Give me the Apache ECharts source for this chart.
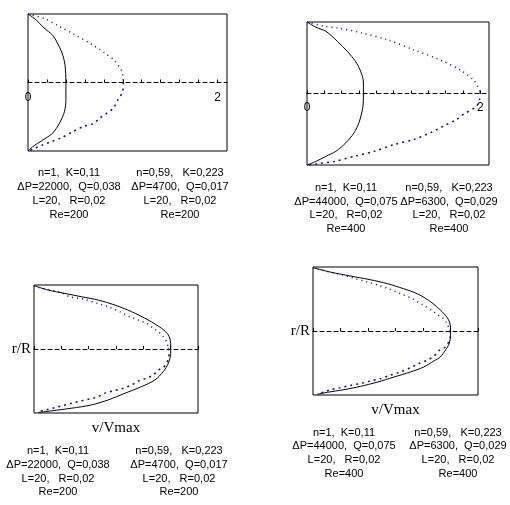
<!DOCTYPE html>
<html>
<head>
<meta charset="utf-8">
<script src="https://cdn.jsdelivr.net/npm/echarts@6/dist/echarts.min.js"></script>
<style>
  html, body { margin: 0; padding: 0; background: #fff; }
  #chart { width: 510px; height: 505px; }
</style>
</head>
<body>
<div id="chart"></div>
<script>
// velocity profiles, points are [v, r/R], top wall to bottom wall
// Re=200, absolute velocity
const profileNewton200 = [[0, 1], [0.083, 0.917], [0.17, 0.795], [0.26, 0.69], [0.31, 0.577], [0.36, 0.43], [0.39, 0.26],
  [0.40, 0], [0.40, -0.25], [0.385, -0.425], [0.33, -0.6], [0.26, -0.74], [0.19, -0.81], [0.10, -0.89], [0.047, -0.94], [0, -1]];
const profilePower200 = [[0, 1], [0.17, 0.934], [0.33, 0.82], [0.49, 0.70], [0.65, 0.577], [0.81, 0.43], [0.92, 0.31], [0.99, 0.16],
  [1.005, 0], [1.0, -0.13], [0.95, -0.25], [0.90, -0.376], [0.83, -0.45], [0.757, -0.52], [0.69, -0.6], [0.58, -0.645],
  [0.47, -0.72], [0.35, -0.81], [0.24, -0.866], [0.15, -0.914], [0.065, -0.963], [0.01, -1]];
// Re=400, absolute velocity
const profileNewton400 = [[0, 1], [0.103, 0.927], [0.218, 0.87], [0.352, 0.728], [0.467, 0.586], [0.563, 0.444], [0.621, 0.303],
  [0.651, 0.161], [0.651, -0.005], [0.644, -0.194], [0.60, -0.407], [0.544, -0.548], [0.448, -0.69], [0.333, -0.809],
  [0.218, -0.879], [0.103, -0.95], [0, -1]];
const profilePower400 = [[0, 1], [0.199, 0.941], [0.352, 0.917], [0.64, 0.846], [0.927, 0.752], [1.234, 0.61], [1.54, 0.468],
  [1.77, 0.326], [1.926, 0.184], [2.0, 0.019], [1.992, -0.076], [1.954, -0.18], [1.808, -0.288], [1.732, -0.359],
  [1.579, -0.454], [1.425, -0.548], [1.234, -0.643], [1.004, -0.714], [0.774, -0.809], [0.544, -0.879], [0.314, -0.95],
  [0.123, -0.983], [0.027, -1]];
// Re=200, v/Vmax
const normNewton200 = [[0, 0.99], [0.105, 0.92], [0.227, 0.868], [0.349, 0.816], [0.471, 0.764], [0.593, 0.686], [0.715, 0.582],
  [0.837, 0.452], [0.934, 0.322], [0.983, 0.218], [1.0, 0.088], [1.0, -0.068], [0.983, -0.223], [0.946, -0.353],
  [0.885, -0.483], [0.788, -0.587], [0.666, -0.691], [0.544, -0.795], [0.422, -0.873], [0.276, -0.925], [0.129, -0.966],
  [0.032, -0.992]];
const normPower200 = [[0, 0.99], [0.037, 0.96], [0.093, 0.935], [0.183, 0.894], [0.263, 0.816], [0.361, 0.78], [0.47, 0.71],
  [0.544, 0.66], [0.63, 0.58], [0.70, 0.504], [0.763, 0.452], [0.824, 0.40], [0.873, 0.322], [0.91, 0.27], [0.946, 0.192],
  [0.97, 0.114], [0.983, 0.01], [0.988, -0.068], [0.983, -0.145], [0.97, -0.223], [0.946, -0.29], [0.91, -0.327],
  [0.873, -0.405], [0.824, -0.457], [0.763, -0.5], [0.715, -0.56], [0.654, -0.613], [0.58, -0.655], [0.52, -0.69],
  [0.47, -0.745], [0.41, -0.78], [0.349, -0.81], [0.276, -0.847], [0.215, -0.883], [0.154, -0.914], [0.093, -0.95],
  [0.032, -0.977]];
// Re=400, v/Vmax
const normNewton400 = [[0, 0.99], [0.127, 0.92], [0.27, 0.86], [0.42, 0.80], [0.54, 0.74], [0.66, 0.66], [0.757, 0.583],
  [0.84, 0.48], [0.915, 0.35], [0.963, 0.245], [0.99, 0.156], [1.0, 0.06], [1.0, -0.068], [0.99, -0.2], [0.963, -0.3],
  [0.926, -0.406], [0.878, -0.47], [0.805, -0.563], [0.709, -0.64], [0.588, -0.72], [0.466, -0.8], [0.345, -0.865],
  [0.225, -0.917], [0.104, -0.958], [0.03, -0.99]];
const normPower400 = [[0, 0.99], [0.036, 0.964], [0.176, 0.896], [0.285, 0.833], [0.394, 0.766], [0.478, 0.714], [0.55, 0.66],
  [0.636, 0.583], [0.72, 0.505], [0.805, 0.40], [0.866, 0.32], [0.914, 0.245], [0.95, 0.19], [0.975, 0.115], [0.994, 0.01],
  [1.0, -0.068], [0.987, -0.17], [0.963, -0.25], [0.914, -0.31], [0.878, -0.396], [0.83, -0.458], [0.769, -0.51],
  [0.709, -0.573], [0.636, -0.64], [0.563, -0.69], [0.49, -0.745], [0.42, -0.78], [0.345, -0.82], [0.273, -0.85],
  [0.2, -0.885], [0.127, -0.917], [0.08, -0.953], [0.03, -0.98]];

// parameter captions under each plot
const newtonParams200 = ['n=1,  K=0,11', 'ΔP=22000,  Q=0,038', 'L=20,   R=0,02', 'Re=200'];
const powerParams200 = ['n=0,59,   K=0,223', 'ΔP=4700,  Q=0,017', 'L=20,   R=0,02', 'Re=200'];
const newtonParams400 = ['n=1,  K=0,11', 'ΔP=44000,  Q=0,075', 'L=20,   R=0,02', 'Re=400'];
const powerParams400 = ['n=0,59,   K=0,223', 'ΔP=6300,  Q=0,029', 'L=20,   R=0,02', 'Re=400'];

const shownTicks = [0, 2];

// labelMargin: labels sit under the grid bottom, pulled back up to the centre line
const panels = [
  { grid: { left: 28, top: 14, width: 199, height: 137 }, xMax: 2.1, labelMargin: -59,
    newton: profileNewton200, power: profilePower200,
    caption: [newtonParams200, powerParams200], capX: [69, 180], capY: 166, capLh: 14 },
  { grid: { left: 307, top: 22, width: 182, height: 143 }, xMax: 2.1, labelMargin: -63,
    newton: profileNewton400, power: profilePower400,
    caption: [newtonParams400, powerParams400], capX: [346, 449], capY: 181, capLh: 13.7 },
  { grid: { left: 34, top: 285, width: 164, height: 128 }, xMax: 1.2, labelMargin: 8,
    newton: normNewton200, power: normPower200,
    caption: [newtonParams200, powerParams200], capX: [58, 179], capY: 444, capLh: 13.8, names: true },
  { grid: { left: 313, top: 267, width: 165, height: 128 }, xMax: 1.2, labelMargin: 8,
    newton: normNewton400, power: normPower400,
    caption: [newtonParams400, powerParams400], capX: [344, 458], capY: 426, capLh: 13.6, names: true }
];

const serif = '"Liberation Serif", "Times New Roman", serif';
const sans = '"Liberation Sans", Arial, sans-serif';
const blue = '#0c0c88';

// split the non-newtonian curve at the axis: upper half dotted, lower half short dashes
function splitAtAxis(points) {
  const i = points.findIndex(p => p[1] < 0);
  return [points.slice(0, i), points.slice(i - 1)];
}

const grids = [], xAxes = [], yAxes = [], series = [], graphics = [];

panels.forEach((p, k) => {
  grids.push(Object.assign({ show: true, borderColor: '#000', borderWidth: 1, backgroundColor: 'transparent' }, p.grid));
  xAxes.push({
    gridIndex: k, type: 'value', min: 0, max: p.xMax, interval: 0.2,
    axisLine: { onZero: true, lineStyle: { color: '#000', width: 1, type: [4, 3] } },
    axisTick: { inside: true, length: 3, lineStyle: { color: '#000' } },
    axisLabel: {
      show: !p.names, margin: p.labelMargin, color: '#000', fontSize: 12, fontFamily: sans, showMaxLabel: false,
      formatter: v => shownTicks.some(t => Math.abs(t - v) < 1e-6) ? String(Math.round(v)) : ''
    },
    splitLine: { show: false },
    name: p.names ? 'v/Vmax' : '', nameLocation: 'middle', nameGap: 8,
    nameTextStyle: { fontFamily: serif, fontSize: 15, color: '#000' }
  });
  yAxes.push({
    gridIndex: k, type: 'value', min: -1, max: 1, show: !!p.names,
    axisLine: { show: false }, axisTick: { show: false }, axisLabel: { show: false }, splitLine: { show: false },
    name: p.names ? 'r/R' : '', nameLocation: 'middle', nameRotate: 0, nameGap: 3,
    nameTextStyle: { fontFamily: serif, fontSize: 15, color: '#000', align: 'right', verticalAlign: 'middle' }
  });
  series.push({
    type: 'line', xAxisIndex: k, yAxisIndex: k, data: p.newton, symbol: 'none', smooth: 0.3,
    lineStyle: { color: '#000', width: 1 }
  });
  const halves = splitAtAxis(p.power);
  series.push({
    type: 'line', xAxisIndex: k, yAxisIndex: k, data: halves[0], symbol: 'none', smooth: 0.3,
    lineStyle: { color: blue, width: 1.5, type: [1, 4] }
  });
  series.push({
    type: 'line', xAxisIndex: k, yAxisIndex: k, data: halves[1], symbol: 'none', smooth: 0.3,
    lineStyle: { color: blue, width: 1.5, type: [2, 4] }
  });
  p.caption.forEach((lines, c) => {
    graphics.push({
      type: 'text', x: p.capX[c], y: p.capY,
      style: { text: lines.join('\n'), textAlign: 'center', verticalAlign: 'top',
        font: '11px ' + sans, lineHeight: p.capLh, fill: '#000' }
    });
  });
});

const myChart = echarts.init(document.getElementById('chart'));
myChart.setOption({
  animation: false,
  backgroundColor: '#fff',
  grid: grids,
  xAxis: xAxes,
  yAxis: yAxes,
  series: series,
  graphic: graphics
});
</script>
</body>
</html>
